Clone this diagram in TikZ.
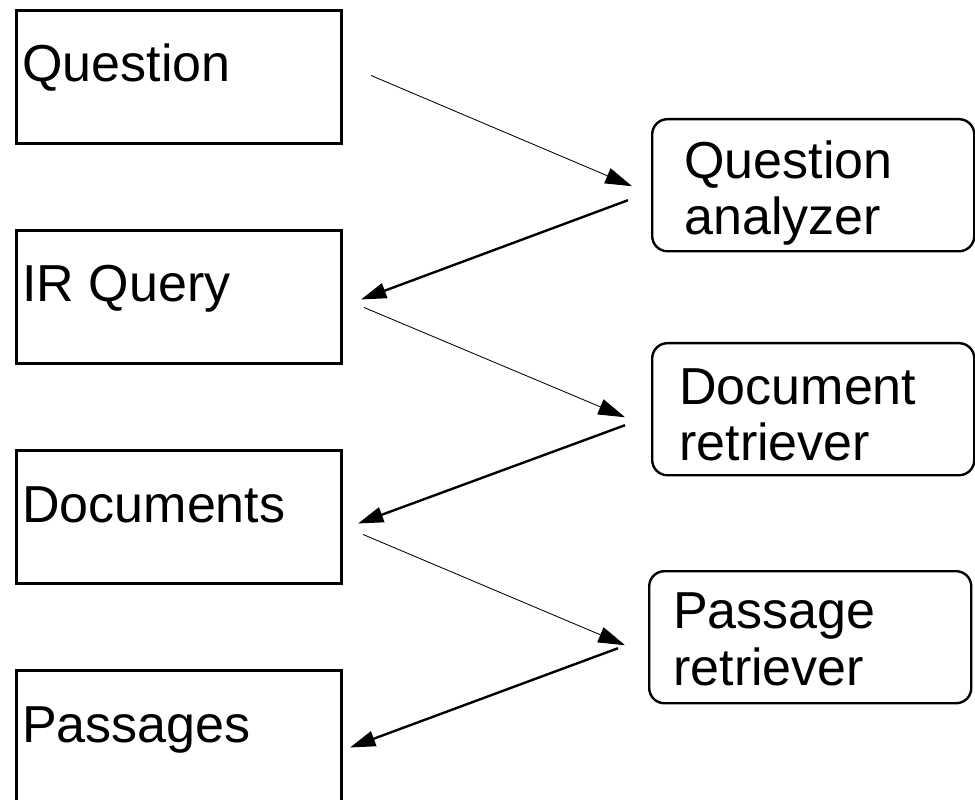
\documentclass[tikz,border=0pt]{standalone}
\usepackage{fontspec}
\setmainfont{Liberation Sans}
\usetikzlibrary{arrows.meta}

\tikzset{
  leftbox/.style={draw, line width=2.1pt, anchor=north west, inner sep=0pt,
    minimum width=8.125cm, minimum height=3.325cm},
  rightbox/.style={draw, line width=1.7pt, rounded corners=0.38cm, anchor=north west,
    inner sep=0pt, minimum width=8.05cm, minimum height=3.3cm},
  boxtext/.style={anchor=base west, inner sep=0pt, align=left,
    font=\fontsize{37}{40.5}\selectfont},
  fwdarrow/.style={line width=0.6pt, -{Triangle[length=19pt, width=11.5pt]}},
  backarrow/.style={line width=1.7pt, -{Triangle[length=18pt, width=11pt]}},
}

\begin{document}
\begin{tikzpicture}[x=0.025cm, y=-0.025cm]
                \path [use as bounding box, clip] (0,0) rectangle (975,800);%

                % Drawing box Question
                \node [leftbox] (question) at (15,9) {};%
                \node [boxtext] (questiontext) at ([shift={(7,73)}]question.north west) {Question};%

                % Drawing box IR Query
                \node [leftbox] (irquery) at (15,229) {};%
                \node [boxtext] (irquerytext) at ([shift={(7,73)}]irquery.north west) {IR Query};%

                % Drawing box Documents
                \node [leftbox] (documents) at (15,449) {};%
                \node [boxtext] (documentstext) at ([shift={(7,73)}]documents.north west) {Documents};%

                % Drawing box Passages
                \node [leftbox] (passages) at (15,669) {};%
                \node [boxtext] (passagestext) at ([shift={(7,73)}]passages.north west) {Passages};%

                % Drawing module Question analyzer (base is the second line)
                \node [rightbox] (analyzer) at (651,118) {};%
                \node [boxtext] (analyzertext) at ([shift={(33,117)}]analyzer.north west) {Question\\analyzer};%

                % Drawing module Document retriever
                \node [rightbox] (docretriever) at (651,342) {};%
                \node [boxtext] (docretrievertext) at ([shift={(28,119)}]docretriever.north west) {Document\\retriever};%

                % Drawing module Passage retriever
                \node [rightbox] (pasretriever) at (648,570) {};%
                \node [boxtext] (pasretrievertext) at ([shift={(25,115)}]pasretriever.north west) {Passage\\retriever};%

                % Drawing arrows into the modules
                \draw [fwdarrow] ([shift={(28,-1.5)}]question.east) -- ([shift={(-19,1)}]analyzer.west);%
                \draw [fwdarrow] ([shift={(21,10.5)}]irquery.east) -- ([shift={(-26,8)}]docretriever.west);%
                \draw [fwdarrow] ([shift={(20,17.5)}]documents.east) -- ([shift={(-23,8)}]pasretriever.west);%

                % Drawing arrows out of the modules
                \draw [backarrow] ([shift={(-23,15)}]analyzer.west) -- ([shift={(18,2.5)}]irquery.east);%
                \draw [backarrow] ([shift={(-26,16)}]docretriever.west) -- ([shift={(15,6.5)}]documents.east);%
                \draw [backarrow] ([shift={(-30,11)}]pasretriever.west) -- ([shift={(7,10.5)}]passages.east);%
\end{tikzpicture}
\end{document}
